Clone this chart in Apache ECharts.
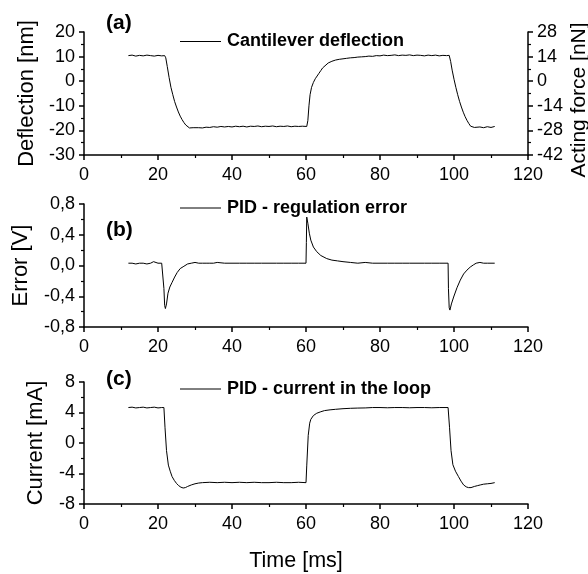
<!DOCTYPE html>
<html>
<head>
<meta charset="utf-8">
<script src="https://cdn.jsdelivr.net/npm/echarts@6/dist/echarts.min.js"></script>
<style>html,body{margin:0;padding:0;background:#fff;}#c{width:588px;height:574px;}</style>
</head>
<body>
<div id="c"></div>
<script>
// ---- data ----
const timeTicksMs = [0, 20, 40, 60, 80, 100, 120];
const deflectionTicksNm = [-30, -20, -10, 0, 10, 20];
const forceTicksNN = [-42, -28, -14, 0, 14, 28];
const errorTicksV = [-0.8, -0.4, 0.0, 0.4, 0.8];
const currentTicksMA = [-8, -4, 0, 4, 8];

const deflectionT = [12,13,14,15,16,17,18,19,20,21,21.8,22.1,22.5,23,23.5,24,24.5,25,25.5,26,26.5,27,27.5,28,28.5,29,29.5,30,31,32,33,34,35,36,37,38,39,40,41,42,43,44,45,46,47,48,49,50,51,52,53,54,55,56,57,58,59,60.2,60.5,60.8,61.1,61.5,62,62.5,63,63.5,64,64.5,65,66,67,68,69,70,71,72,73,74,75,76,77,78,79,80,81,82,83,84,85,86,87,88,89,90,91,92,93,94,95,96,97,98,98.7,99.1,99.5,100,100.5,101,101.5,102,102.5,103,103.5,104,104.5,105,105.5,106,107,108,109,110,111];
const deflectionNm = [10.4,10.6,10.2,10.5,10.3,10.6,10.4,10.2,10.5,10.3,10.4,9.5,6,1.5,-2.5,-5.5,-8.3,-10.5,-12.5,-14.2,-15.6,-16.8,-17.8,-18.6,-19.0,-19.2,-18.9,-19.3,-18.9,-19.0,-18.7,-18.8,-18.5,-18.7,-18.4,-18.6,-18.4,-18.6,-18.3,-18.5,-18.3,-18.6,-18.3,-18.4,-18.2,-18.5,-18.3,-18.4,-18.2,-18.5,-18.3,-18.4,-18.2,-18.5,-18.3,-18.4,-18.3,-18.4,-16,-10,-5.5,-2.5,-0.5,1.0,2.1,3.2,4.3,5.4,6.2,7.4,8.1,8.6,8.9,9.1,9.3,9.5,9.6,9.8,9.9,10.0,10.2,10.1,10.4,10.3,10.6,10.4,10.5,10.7,10.4,10.6,10.5,10.7,10.4,10.6,10.5,10.3,10.6,10.4,10.6,10.3,10.5,10.4,10.5,8,4.5,0.8,-2.5,-5.5,-8.2,-10.5,-12.6,-14.4,-15.9,-17.2,-18.3,-19.0,-18.8,-19.1,-18.6,-18.9,-18.5,-18.8,-18.4];

const errorT = [12,13,14,15,16,17,18,18.8,19.2,20,21,21.5,21.6,21.8,22.0,22.3,22.7,23.2,23.8,24.5,25.2,26,27,28,29,30,31,32,33,34,35,36,38,40,42,44,46,48,50,52,54,56,58,60,60.1,60.2,60.5,60.9,61.3,62,62.9,64,65.6,67,68.5,70,72,74,76,78,80,82,84,86,88,90,92,94,96,98.4,98.5,98.7,98.9,99.3,99.9,100.8,101.7,102.6,103.5,104.4,105.3,106,107,108,109,110,111];
const errorV = [0.03,0.03,0.02,0.03,0.03,0.02,0.03,0.05,0.03,0.03,0.03,0.03,-0.3,-0.52,-0.56,-0.5,-0.36,-0.28,-0.22,-0.15,-0.09,-0.04,-0.01,0.02,0.03,0.04,0.03,0.03,0.03,0.03,0.03,0.04,0.03,0.03,0.03,0.03,0.03,0.03,0.03,0.03,0.03,0.03,0.03,0.03,0.3,0.63,0.55,0.42,0.33,0.24,0.18,0.13,0.09,0.07,0.06,0.05,0.04,0.03,0.04,0.03,0.03,0.03,0.03,0.03,0.03,0.03,0.03,0.03,0.03,0.03,-0.3,-0.55,-0.58,-0.5,-0.41,-0.29,-0.19,-0.11,-0.06,-0.02,0.01,0.03,0.04,0.03,0.03,0.03,0.03];

const currentT = [12,13,14,15,16,17,18,19,20,21,21.6,21.9,22.3,22.8,23.3,23.8,24.4,25,25.6,26.2,26.8,27.4,28,29,30,31,32,34,36,38,40,42,44,46,48,50,52,54,56,58,60,60.2,60.6,61,61.3,62,62.9,64,65,66.5,68,70,72,74,76,78,80,82,84,86,88,90,92,94,96,98.4,98.8,99.2,99.7,100.4,101.2,101.9,102.6,103.3,103.9,104.6,105.5,106.3,107.1,108,109,110,111];
const currentMA = [4.65,4.7,4.6,4.65,4.7,4.6,4.65,4.7,4.6,4.65,4.65,2,-1,-2.9,-3.7,-4.4,-4.9,-5.3,-5.6,-5.8,-5.9,-5.85,-5.7,-5.5,-5.35,-5.25,-5.2,-5.15,-5.2,-5.15,-5.2,-5.15,-5.2,-5.15,-5.2,-5.2,-5.15,-5.2,-5.2,-5.15,-5.2,-3,1,2.6,3.1,3.6,3.9,4.1,4.25,4.35,4.42,4.5,4.55,4.58,4.6,4.65,4.65,4.62,4.65,4.65,4.62,4.65,4.65,4.62,4.65,4.65,2,-1,-2.85,-3.7,-4.4,-5.0,-5.5,-5.75,-5.85,-5.85,-5.7,-5.6,-5.5,-5.4,-5.35,-5.3,-5.2];

const seriesNames = ['Cantilever deflection', 'PID - regulation error', 'PID - current in the loop'];
const panelLabels = ['(a)', '(b)', '(c)'];
const yNames = ['Deflection [nm]', 'Error [V]', 'Current [mA]'];
const rightName = 'Acting force [nN]';
const xName = 'Time [ms]';

function pairs(xs, ys) { return xs.map((x, i) => [x, ys[i]]); }
const FONT = 'Liberation Sans, Arial, sans-serif';
const axisCommon = {
  axisLine: { show: true, onZero: false, lineStyle: { color: '#000', width: 1.5 } },
  axisTick: { show: true, inside: false, length: 5, lineStyle: { color: '#000', width: 1.5 } },
  minorTick: { show: true, splitNumber: 2, length: 3, lineStyle: { color: '#000', width: 1.2 } },
  splitLine: { show: false },
  axisLabel: { color: '#000', fontSize: 18, fontFamily: FONT, margin: 9 }
};
function xAxis(gi) {
  return Object.assign({}, axisCommon, {
    type: 'value', gridIndex: gi, min: timeTicksMs[0], max: timeTicksMs[timeTicksMs.length - 1], interval: 20,
    axisLabel: Object.assign({}, axisCommon.axisLabel, { margin: 11 })
  });
}
function yAxis(gi, ticks, name, gap, fmt, pos) {
  return Object.assign({}, axisCommon, {
    type: 'value', gridIndex: gi, min: ticks[0], max: ticks[ticks.length - 1], interval: ticks[1] - ticks[0],
    position: pos || 'left',
    name: name, nameLocation: 'middle', nameGap: gap,
    nameTextStyle: { color: '#000', fontSize: 22, fontFamily: FONT },
    axisLabel: Object.assign({}, axisCommon.axisLabel, fmt ? { formatter: fmt } : {})
  });
}
const grids = [
  { left: 84, top: 32, width: 444, height: 123 },
  { left: 84, top: 204, width: 444, height: 123 },
  { left: 84, top: 382, width: 444, height: 122 }
];
const legendY = [41.5, 208, 389];
const labelY = [23, 230, 379];
const lineSeries = (name, gi, yi, data) => ({
  name: name, type: 'line', xAxisIndex: gi, yAxisIndex: yi, data: data,
  symbol: 'none', animation: false, lineStyle: { color: '#000', width: 1 }, itemStyle: { color: '#000' }
});

const graphics = [];
seriesNames.forEach((n, i) => {
  graphics.push({ type: 'line', shape: { x1: 180, y1: legendY[i], x2: 221, y2: legendY[i] }, style: { stroke: '#000', lineWidth: 1 } });
  graphics.push({ type: 'text', x: 227, y: legendY[i], style: { text: n, fill: '#000', fontSize: 18, fontWeight: 'bold', fontFamily: FONT, textVerticalAlign: 'middle', verticalAlign: 'middle' } });
});
panelLabels.forEach((t, i) => {
  graphics.push({ type: 'text', x: 106, y: labelY[i], style: { text: t, fill: '#000', fontSize: 21, fontWeight: 'bold', fontFamily: FONT, textVerticalAlign: 'middle', verticalAlign: 'middle' } });
});
graphics.push({ type: 'text', x: 296, y: 561, style: { text: xName, fill: '#000', fontSize: 21.5, fontFamily: FONT, align: 'center', textAlign: 'center', verticalAlign: 'middle', textVerticalAlign: 'middle' } });
graphics.push({ type: 'text', x: 579, y: 100, rotation: Math.PI / 2, style: { text: rightName, fill: '#000', fontSize: 21, fontFamily: FONT, align: 'center', textAlign: 'center', verticalAlign: 'middle', textVerticalAlign: 'middle' } });

const option = {
  animation: false,
  backgroundColor: '#fff',
  grid: grids,
  xAxis: [xAxis(0), xAxis(1), xAxis(2)],
  yAxis: [
    yAxis(0, deflectionTicksNm, yNames[0], 45),
    yAxis(0, forceTicksNN, '', 50, null, 'right'),
    yAxis(1, errorTicksV, yNames[1], 52, v => v.toFixed(1).replace('.', ',')),
    yAxis(2, currentTicksMA, yNames[2], 37)
  ],
  graphic: graphics,
  series: [
    lineSeries(seriesNames[0], 0, 0, pairs(deflectionT, deflectionNm)),
    lineSeries(seriesNames[1], 1, 2, pairs(errorT, errorV)),
    lineSeries(seriesNames[2], 2, 3, pairs(currentT, currentMA))
  ]
};
const chart = echarts.init(document.getElementById('c'), null, { renderer: 'canvas' });
chart.setOption(option);
</script>
</body>
</html>
